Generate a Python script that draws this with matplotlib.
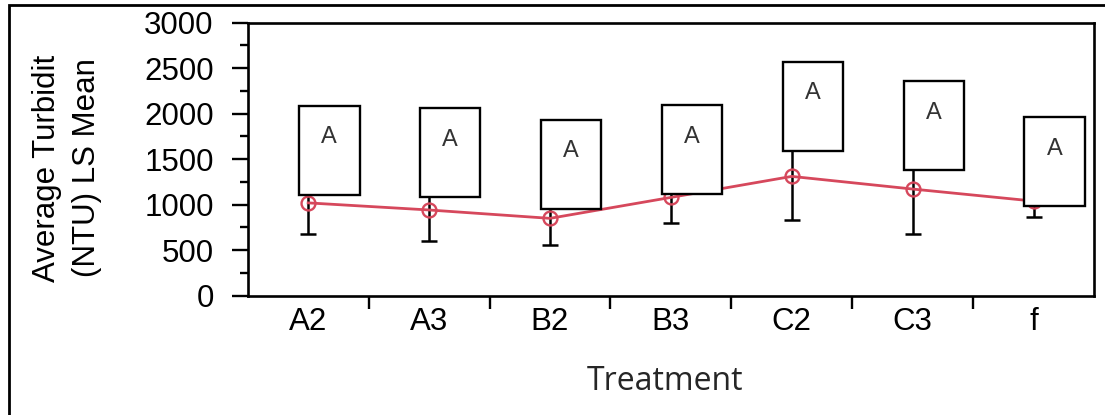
import numpy as np
import matplotlib
matplotlib.use('Agg')
import matplotlib.pyplot as plt
from matplotlib.patches import Rectangle
from matplotlib.ticker import MultipleLocator, FixedLocator, NullFormatter

# ----- data -----
treatments = ['A2', 'A3', 'B2', 'B3', 'C2', 'C3', 'f']
ls_mean = [1020, 942, 850, 1080, 1311, 1172, 1040]
ci_lower = [678, 597, 560, 795, 827, 681, 860]
ci_upper = [1362, 1287, 1140, 1365, 1795, 1663, 1220]
letters = ['A', 'A', 'A', 'A', 'A', 'A', 'A']
box_bottom = [1110, 1085, 956, 1113, 1593, 1377, 981]

plt.rcParams['font.family'] = ['Liberation Sans', 'DejaVu Sans']

fig = plt.figure(figsize=(11.05, 4.15), dpi=100)
ax = fig.add_axes([247.7 / 1105, 1 - 295.7 / 415, (1094 - 247.7) / 1105, (295.7 - 22.7) / 415])

x = np.arange(len(treatments))
mean = np.array(ls_mean)
yerr = np.array([mean - np.array(ci_lower), np.array(ci_upper) - mean])

red = '#d6485c'
ax.errorbar(x, mean, yerr=yerr, fmt='none', ecolor='black', elinewidth=1.8,
            capsize=6, capthick=1.8, zorder=2)
ax.plot(x, mean, color=red, lw=2, marker='o', ms=10, mfc='none',
        mec=red, mew=1.7, zorder=3)

# letter boxes
box_h = 978
for i, (b, let) in enumerate(zip(box_bottom, letters)):
    ax.add_patch(Rectangle((i - 0.075, b), 0.5, box_h, facecolor='white',
                           edgecolor='black', lw=1.7, zorder=4))
    ax.text(i + 0.175, b + box_h * 0.644, let, ha='center', va='center',
            fontsize=17, color='#333333', zorder=5)

ax.set_xlim(-0.5, len(treatments) - 0.5)
ax.set_ylim(0, 3000)

# y axis
ax.yaxis.set_major_locator(MultipleLocator(500))
ax.yaxis.set_minor_locator(MultipleLocator(250))
ax.tick_params(axis='y', which='major', length=11.5, width=1.7, labelsize=22.5, pad=13)
ax.tick_params(axis='y', which='minor', length=5.8, width=1.7)

# x axis: ticks between categories, labels at centers
ax.xaxis.set_major_locator(FixedLocator(x[:-1] + 0.5))
ax.xaxis.set_major_formatter(NullFormatter())
ax.xaxis.set_minor_locator(FixedLocator(x))
ax.set_xticklabels(treatments, minor=True)
ax.tick_params(axis='x', which='major', length=9.5, width=1.7)
ax.tick_params(axis='x', which='minor', length=0, labelsize=22.5, pad=8)

for s in ax.spines.values():
    s.set_linewidth(1.9)

fig.text(67 / 1105, 1 - 168 / 415, 'Average Turbidit\n(NTU) LS Mean', rotation=90,
         ha='center', va='center', fontsize=22.5, linespacing=1.4)
fig.text(665 / 1105, 1 - 381 / 415, 'Treatment', ha='center', va='center',
         fontsize=23, color='#262626', family=['Open Sans', 'DejaVu Sans'])

# outer frame (left and top edges visible)
fig.add_artist(Rectangle((8.5 / 1105, -0.1), 1.2, 1.1 - 5.5 / 415,
                         transform=fig.transFigure, facecolor='none',
                         edgecolor='black', lw=2))

fig.savefig('out.png', dpi=100)
